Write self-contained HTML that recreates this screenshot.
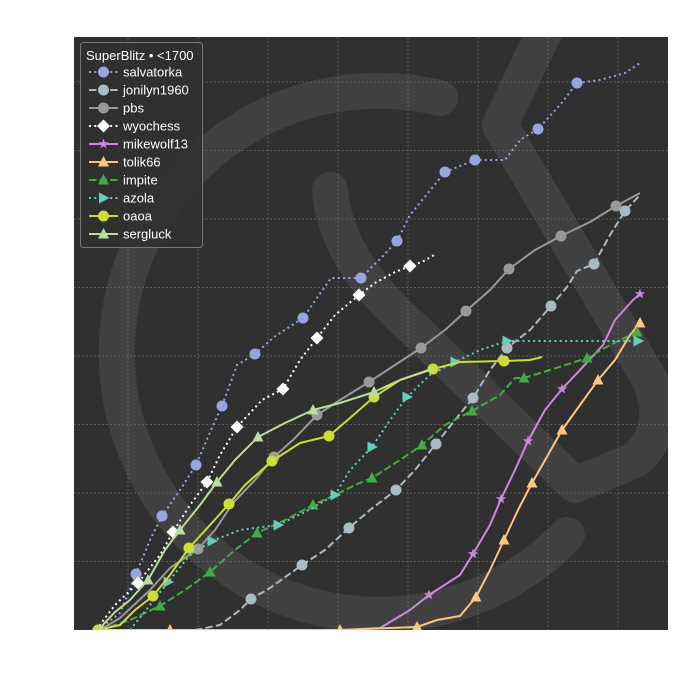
<!DOCTYPE html>
<html><head><meta charset="utf-8"><style>
html,body{margin:0;padding:0;background:#fff;}
svg{display:block;font-family:"Liberation Sans","DejaVu Sans",sans-serif;}
</style></head><body>
<svg id="chart" width="700" height="700" viewBox="0 0 700 700">
<rect x="0" y="0" width="700" height="700" fill="#ffffff"/>
<rect x="74" y="37" width="594" height="593" fill="#303030"/>
<defs><clipPath id="clip"><rect x="74" y="37" width="594" height="593"/></clipPath></defs>
<g clip-path="url(#clip)" fill="none" stroke="#ffffff" stroke-opacity="0.085" stroke-width="36" stroke-linecap="round" stroke-linejoin="round">
<path d="M 567 535 A 262 262 0 1 1 440 98"/>
<path d="M 330 190 Q 335 260 415 330 L 575 485 L 635 460 Q 670 430 650 380 L 500 125 L 545 30"/>
</g>
<g id="grid"></g>
<g id="series" clip-path="url(#clip)"></g>
<g id="legend"></g>
</svg>
<script>
// x: days, y: games
const xTicks = [5.4, 12.4, 19.4, 26.4, 33.4, 40.4, 47.4, 54.4];
const yTicks = [6.85, 13.7, 20.55, 27.4, 34.25, 41.1, 47.95, 54.8];
const seriesNames = ["salvatorka","jonilyn1960","pbs","wyochess","mikewolf13","tolik66","impite","azola","oaoa","sergluck"];
const salvatorkaX = [2.4,4.6,6.2,7.6,8.8,10.6,12.2,13.7,14.8,16.3,18.1,20,22.9,25.7,28.7,30.7,32.3,33.6,37.1,40.1,43.1,44.6,46.4,48.6,50.3,52.6,55.1,56.6];
const salvatorkaY = [0,1.7,5.6,9,11.4,14,16.5,20,22.4,26.5,27.6,29.3,31.2,35.2,35.2,37.2,38.9,41.5,45.8,47,47,49,50.1,52.5,54.7,55,55.7,56.7];
const wyochessX = [2.2,4.1,6.4,8.6,9.9,11.6,13.3,14.6,16.3,18.8,20.9,22.6,24.3,26.1,28.5,30.1,32.1,33.6,34.8,36.2];
const wyochessY = [0,2.5,4.7,7.5,9.8,12.5,14.8,17.5,20.3,23,24.1,27,29.2,31.5,33.5,34.7,35.8,36.4,36.8,37.6];
const pbsX = [2.6,4.6,7.6,9.6,12.4,14.1,15.9,18.1,20,22.1,24.3,26.6,29.5,32.1,34.7,37.1,39.2,41.6,43.5,46.1,48.7,51.6,54.2,56.6];
const pbsY = [0,1.2,4,6.2,8.1,10,12.7,15,17.3,19.2,21.5,23,24.8,26.5,28.2,30,31.9,34,36.1,38,39.4,40.8,42.4,43.7];
const jonilynX = [12.1,14.6,16.6,17.7,19.6,22.8,25.1,27.5,29.6,32.2,34.1,36.2,38.1,39.9,41.6,43.3,45.6,47.7,49.3,50.3,52,53.6,55.1,56.6];
const jonilynY = [0,0.5,2,3.1,4.2,6.5,8,10.2,12,14,16,18.6,21,23.2,26,28.2,30,32.4,34.3,35.9,36.6,39.5,41.9,43.5];
const mikewolfX = [26.6,30.6,33.6,35.5,38.6,39.9,41.6,42.7,44.1,45.4,47.1,48.8,50.6,52.9,54.1,55.9,56.6];
const mikewolfY = [0,0.2,2,3.5,5.5,7.6,10.5,13.1,16,18.9,22,24.1,26,28.5,31,33,33.6];
const tolikX = [2.6,9.6,26.6,34.3,36.3,38.6,40.2,41.6,43,44.4,45.8,47.4,48.8,50.6,52.4,54.1,55.6,56.6];
const tolikY = [0,0,0,0.3,1,1.4,3.3,6,9,12,14.7,17.5,20,22.5,25,27,29.5,30.7];
const impiteX = [2.6,5.6,8.6,11.1,13.6,16.1,18.3,21.1,23.9,26.1,28.1,29.8,32.6,34.8,37.1,39.8,42.6,44.1,45,47.6,51.3,53.6,56.3];
const impiteY = [0,1,2.4,4,5.8,8,9.7,11,12.5,13.5,14.5,15.2,17,18.5,20.5,21.9,23.5,25.2,25.2,26,27.2,28.5,29.8];
const azolaX = [5.6,7.6,9.4,11.6,13.8,16.6,20.4,23.1,26.1,27.6,29.8,31.6,33.3,35.6,38.1,40.6,43.3,49.6,56.4];
const azolaY = [0,2.5,4.8,7.5,8.9,10,10.5,11.8,13.5,16,18.3,21,23.3,25.5,26.8,28,28.9,28.9,28.9];
const oaoaX = [2.4,4.6,6.1,7.9,9.6,11.5,13.6,15.5,17.1,19.8,22.6,25.5,27.6,30,32.6,35.9,38.6,43,45.6,46.8];
const oaoaY = [0,0.5,2,3.4,5.5,8.2,10.5,12.6,14.5,16.9,18.7,19.4,21.2,23.3,25,26.1,26.8,26.9,27,27.3];
const sergluckX = [2.4,4.1,5.6,7.4,9.1,10.6,12.6,14.3,16.1,18.4,21.1,23.9,26.6,30,32.6,34.9,35.9];
const sergluckY = [0,1.8,3,5,8,10,12.5,14.8,17,19.3,20.7,22,22.7,23.8,25,25.8,26.2];

const X0=74, X1=668, Y0=630, Y1=37;
function sx(v){return X0 + v*10;}
function sy(v){return Y0 - v*10;}
const NS='http://www.w3.org/2000/svg';
function mk(tag, attrs, parent){const e=document.createElementNS(NS,tag);for(const k in attrs)e.setAttribute(k,attrs[k]);parent.appendChild(e);return e;}

const grid=document.getElementById('grid');
xTicks.forEach(t=>{
  const l=mk('line',{x1:sx(t),x2:sx(t),y1:Y1,y2:Y0,stroke:'#6a6a6a','stroke-width':0.8,'stroke-dasharray':'2,2'},grid);
  
  
});
yTicks.forEach(t=>{
  const l=mk('line',{x1:X0,x2:X1,y1:sy(t),y2:sy(t),stroke:'#6a6a6a','stroke-width':0.8,'stroke-dasharray':'2,2'},grid);
  
  
});

const DOT='2,3.3', DASH='7.4,3.2';
const styles = [
 {name:'salvatorka',xs:salvatorkaX,ys:salvatorkaY,c:'#98a4e0',dash:DOT,m:'circle',marks:[2,4,6,8,10,12,14,16,18,19,22,24]},
 {name:'jonilyn1960',xs:jonilynX,ys:jonilynY,c:'#aabbc3',dash:DASH,m:'circle',marks:[3,5,7,9,11,13,15,17,20,22]},
 {name:'pbs',xs:pbsX,ys:pbsY,c:'#999999',dash:'',m:'circle',marks:[4,8,10,12,14,16,18,20,22]},
 {name:'wyochess',xs:wyochessX,ys:wyochessY,c:'#ffffff',dash:DOT,m:'diamond',marks:[2,4,6,8,10,12,14,17]},
 {name:'mikewolf13',xs:mikewolfX,ys:mikewolfY,c:'#cc88dd',dash:'',m:'star',marks:[3,5,7,9,11,16]},
 {name:'tolik66',xs:tolikX,ys:tolikY,c:'#ffc57a',dash:'',m:'tri',marks:[1,2,3,6,8,10,12,14,17]},
 {name:'impite',xs:impiteX,ys:impiteY,c:'#44aa44',dash:DASH,m:'tri',marks:[2,4,6,8,11,13,15,18,20,22]},
 {name:'azola',xs:azolaX,ys:azolaY,c:'#66ccbb',dash:DOT,m:'triR',marks:[2,4,6,8,10,12,14,16,18]},
 {name:'oaoa',xs:oaoaX,ys:oaoaY,c:'#ccdd33',dash:'',m:'circle',marks:[0,3,5,7,9,11,13,15,17]},
 {name:'sergluck',xs:sergluckX,ys:sergluckY,c:'#bbdd99',dash:'',m:'tri',marks:[3,5,7,9,11,13]}
];
function marker(g,type,x,y,c){
  let e;
  if(type==='circle') e=mk('circle',{cx:x,cy:y,r:5.5,fill:c},g);
  else if(type==='diamond') e=mk('polygon',{points:`${x},${y-6.5} ${x+6.5},${y} ${x},${y+6.5} ${x-6.5},${y}`,fill:c},g);
  else if(type==='tri') e=mk('polygon',{points:`${x},${y-6} ${x+5.5},${y+4.5} ${x-5.5},${y+4.5}`,fill:c},g);
  else if(type==='triR') e=mk('polygon',{points:`${x+6},${y} ${x-4.5},${y-5.5} ${x-4.5},${y+5.5}`,fill:c},g);
  else { let p=[];for(let i=0;i<10;i++){const r=i%2?2.2:5.5;const a=-Math.PI/2+i*Math.PI/5;p.push((x+r*Math.cos(a)).toFixed(1)+','+(y+r*Math.sin(a)).toFixed(1));}
    e=mk('polygon',{points:p.join(' '),fill:c},g);}
  return e;
}
const sg=document.getElementById('series');
styles.forEach(s=>{
  const g=mk('g',{},sg);
  
  
  const d=s.xs.map((v,i)=>(i?'L':'M')+sx(v).toFixed(1)+' '+sy(s.ys[i]).toFixed(1)).join(' ');
  const p=mk('path',{d:d,fill:'none',stroke:s.c,'stroke-width':2,'stroke-linejoin':'round'},g);
  if(s.dash) p.setAttribute('stroke-dasharray',s.dash);
  
  
  s.marks.forEach(i=>{
    if(i>=s.xs.length) return;
    const e=marker(g,s.m,sx(s.xs[i]),sy(s.ys[i]),s.c);
    
    
  });
});

const lg=document.getElementById('legend');
const box=mk('rect',{x:80.5,y:42.5,width:122,height:205,rx:3,fill:'#303030','fill-opacity':0.85,stroke:'#777','stroke-width':1},lg);


const title=mk('text',{x:86,y:60,fill:'#ffffff','font-size':13},lg);
title.textContent='SuperBlitz • <1700';


styles.forEach((s,i)=>{
  const y=72+i*18;
  const g=mk('g',{},lg);
  
  
  const l=mk('line',{x1:89,x2:118,y1:y,y2:y,stroke:s.c,'stroke-width':2},g);
  if(s.dash) l.setAttribute('stroke-dasharray',s.dash);
  marker(g,s.m,103.5,y,s.c);
  const t=mk('text',{x:123,y:y+4.5,fill:'#ffffff','font-size':13},g);
  t.textContent=s.name;
});
</script>
</body></html>
